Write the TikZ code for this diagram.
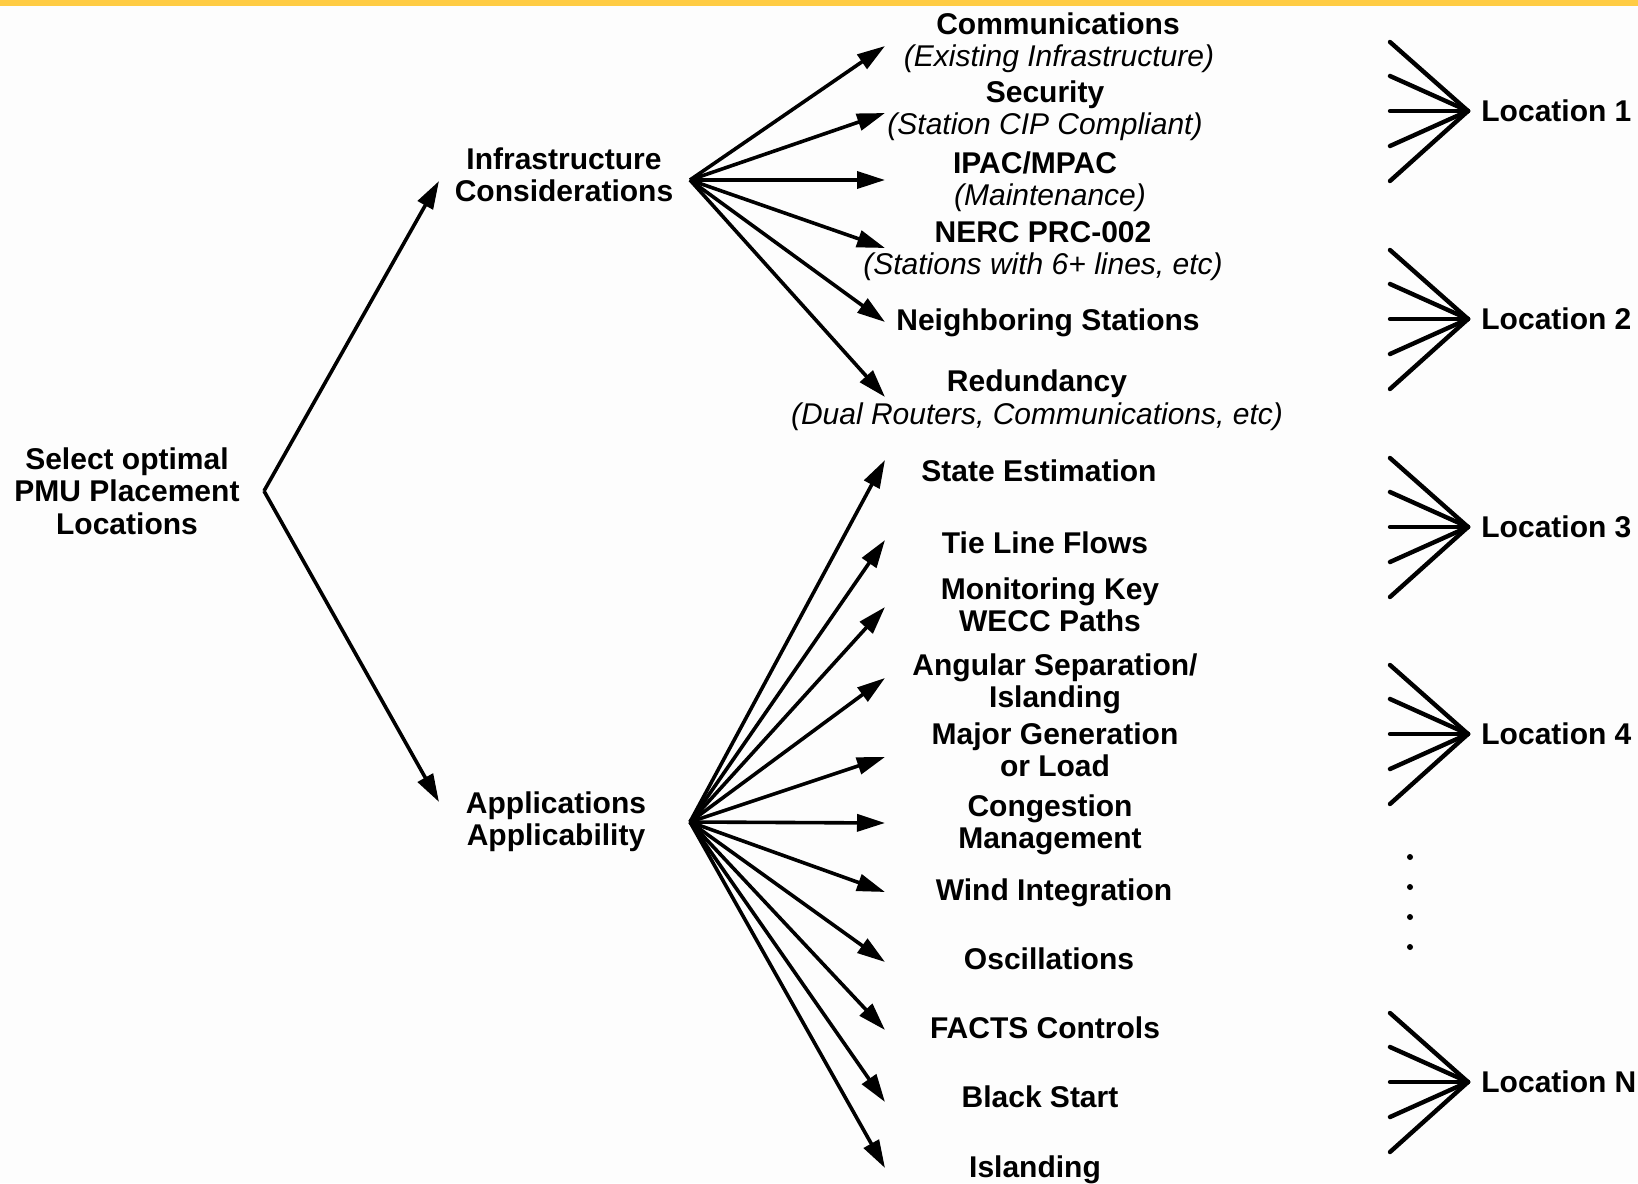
\documentclass[tikz,border=0pt]{standalone}
\usepackage{fontspec}
\setmainfont{Liberation Sans}
\usetikzlibrary{arrows.meta}
\definecolor{baryellow}{HTML}{FFCC44}
\definecolor{paper}{HTML}{FDFDFD}
\begin{document}
\begin{tikzpicture}[x=0.5pt,y=-0.5pt,
  lbl/.style={font=\fontsize{15}{16.2}\selectfont\bfseries, align=center, inner sep=0pt},
  sub/.style={font=\fontsize{15}{16.2}\selectfont\itshape, inner sep=0pt},
  loc/.style={font=\fontsize{15}{16.2}\selectfont\bfseries, anchor=west, inner sep=0pt},
  conn/.style={line width=1.8pt, -{Triangle[length=14pt,width=8.5pt]}},
  ray/.style={line width=2.2pt, line cap=round}]
\fill[paper] (0,0) rectangle (1638,1183);
\useasboundingbox (0,0) rectangle (1638,1183);
\fill[baryellow] (0,0) rectangle (1638,6);

% hubs where the fans meet
\coordinate (rootHub) at (264,491);
\coordinate (infHub) at (690,180);
\coordinate (appHub) at (690,822);

% first level
\node[lbl] (root) at (127,491) {Select optimal\\PMU Placement\\Locations};
\node[lbl] (infra) at (564,175) {Infrastructure\\Considerations};
\node[lbl] (apps) at (556,822) {Applications\\Applicability};
\coordinate (infIn) at (439,181);
\coordinate (appIn) at (439,802);
\draw[conn] (rootHub) -- (infIn);
\draw[conn] (rootHub) -- (appIn);

% infrastructure considerations
\node[lbl] (comm) at (1058,24) {Communications};
\node[sub] (commS) at (1059,59) {(Existing Infrastructure)};
\node[lbl] (sec) at (1045,95) {Security};
\node[sub] (secS) at (1045,127) {(Station CIP Compliant)};
\node[lbl] (ipac) at (1035,163) {IPAC/MPAC};
\node[sub] (ipacS) at (1050,198) {(Maintenance)};
\node[lbl] (nerc) at (1043,232) {NERC PRC-002};
\node[sub] (nercS) at (1043,267) {(Stations with 6+ lines, etc)};
\node[lbl] (neigh) at (1048,323) {Neighboring Stations};
\node[lbl] (red) at (1037,384) {Redundancy};
\node[sub] (redS) at (1037,417) {(Dual Routers, Communications, etc)};

\foreach \n/\y in {a/46,b/113,c/180,d/248,e/322,f/397}{
  \coordinate (inf-\n) at (885,\y);
  \draw[conn] (infHub) -- (inf-\n);
}

% applications
\node[lbl] (se) at (1039,471) {State Estimation};
\node[lbl] (tie) at (1045,543) {Tie Line Flows};
\node[lbl] (wecc) at (1050,605) {Monitoring Key\\WECC Paths};
\node[lbl] (ang) at (1055,684) {Angular Separation/\\Islanding};
\node[lbl] (gen) at (1055,750) {Major Generation\\or Load};
\node[lbl] (cong) at (1050,825) {Congestion\\Management};
\node[lbl] (wind) at (1054,893) {Wind Integration};
\node[lbl] (osc) at (1049,959) {Oscillations};
\node[lbl] (facts) at (1045,1028) {FACTS Controls};
\node[lbl] (bs) at (1040,1097) {Black Start};
\node[lbl] (isl) at (1035,1170) {Islanding};

\foreach \n/\y in {a/460,b/540,c/607,d/678,e/757,f/823,g/892,h/962,i/1030,j/1102,k/1168}{
  \coordinate (app-\n) at (885,\y);
  \draw[conn] (appHub) -- (app-\n);
}

% candidate locations
\foreach \k/\y/\t in {1/111/Location 1,2/319/Location 2,3/527/Location 3,4/734/Location 4,N/1082/Location N}{
  \coordinate (hub-\k) at (1468,\y);
  \node[loc] (loc-\k) at (1481,\y) {\t};
  \foreach \d in {-69,-35,0,35,70}{
    \coordinate (in-\k-\d) at (1390,\y+\d);
    \draw[ray] (in-\k-\d) -- (hub-\k);
  }
}

% ellipsis
\foreach \y in {857,887,917,947}
  \fill (1410,\y) circle (3);
\end{tikzpicture}
\end{document}
